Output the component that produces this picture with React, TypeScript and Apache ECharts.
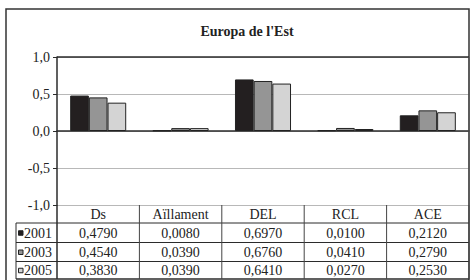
import React, { useEffect, useRef } from "react";
import * as echarts from "echarts";

const chartTitle = "Europa de l'Est";
const categories = ["Ds", "Aïllament", "DEL", "RCL", "ACE"];
const seriesNames = ["2001", "2003", "2005"];
const values2001 = [0.479, 0.008, 0.697, 0.01, 0.212];
const values2003 = [0.454, 0.039, 0.676, 0.041, 0.279];
const values2005 = [0.383, 0.039, 0.641, 0.027, 0.253];
const seriesValues = [values2001, values2003, values2005];
const seriesColors = ["#231f20", "#959595", "#d4d4d4"];
const yMin = -1;
const yMax = 1;
const yStep = 0.5;

const FONT = "serif";
const W = 470;
const H = 280;
const GL = 57;
const GT = 57;
const GW = 412;
const GH = 148;
const ROWS = [205, 223, 242.5, 261.5, 279];
const LEG_X = 16;
const DARK = "#2b2b2b";

const fmt = (v: number, d: number) => v.toFixed(d).replace(".", ",");

export default function App() {
  const ref = useRef<HTMLDivElement>(null);
  useEffect(() => {
    if (!ref.current) return;
    const chart = echarts.init(ref.current, null, { renderer: "svg" });
    const option: any = {
      animation: false,
      backgroundColor: "#ffffff",
      textStyle: { fontFamily: FONT },
      grid: { left: GL, top: GT, width: GW, height: GH, containLabel: false },
      xAxis: {
        type: "category",
        data: categories,
        axisLine: { show: true, lineStyle: { color: DARK, width: 1.5 } },
        axisTick: { show: false },
        axisLabel: { show: false },
        splitLine: { show: false },
      },
      yAxis: {
        type: "value",
        min: yMin,
        max: yMax,
        interval: yStep,
        axisLine: { show: true, lineStyle: { color: DARK, width: 1.5 } },
        axisTick: { show: true, length: 4, lineStyle: { color: DARK, width: 1 } },
        axisLabel: {
          formatter: (v: number) => fmt(v, 1),
          fontFamily: FONT,
          fontSize: 14,
          color: "#222",
          margin: 7,
        },
        splitLine: { show: true, lineStyle: { color: "#b8b8b8", width: 1 } },
      },
      series: seriesNames.map((name, i) => ({
        name,
        type: "bar",
        data: seriesValues[i],
        barGap: "0%",
        barCategoryGap: "32%",
        itemStyle: { color: seriesColors[i], borderColor: "#222", borderWidth: 1 },
      })),
    };
    chart.setOption(option);

    const n = categories.length;
    const catW = GW / n;
    const centers = categories.map((_, i) => chart.convertToPixel({ xAxisIndex: 0 }, i) as number);
    const right = GL + GW;
    const elements: any[] = [];
    elements.push({
      type: "rect",
      shape: { x: 6, y: 9, width: right - 6, height: H },
      style: { fill: "none", stroke: "#333", lineWidth: 1.5 },
      z: 10,
    });
    elements.push({
      type: "line",
      shape: { x1: GL, y1: GT, x2: right, y2: GT },
      style: { stroke: DARK, lineWidth: 1.5 },
      z: 10,
    });
    elements.push({
      type: "line",
      shape: { x1: right, y1: GT, x2: right, y2: GT + GH },
      style: { stroke: "#555", lineWidth: 1 },
      z: 10,
    });
    elements.push({
      type: "text",
      x: 247,
      y: 31,
      style: {
        text: chartTitle,
        fontFamily: FONT,
        fontSize: 14,
        fontWeight: "bold",
        fill: "#222",
        align: "center",
        verticalAlign: "middle",
      },
      z: 10,
    });
    ROWS.forEach((y, r) => {
      if (r === 0) return;
      elements.push({
        type: "line",
        shape: { x1: LEG_X, y1: y, x2: right, y2: y },
        style: { stroke: DARK, lineWidth: r === ROWS.length - 1 ? 1.5 : 1 },
        z: 10,
      });
    });
    for (let i = 0; i <= n; i++) {
      const x = GL + i * catW;
      elements.push({
        type: "line",
        shape: { x1: x, y1: ROWS[0], x2: x, y2: ROWS[ROWS.length - 1] },
        style: { stroke: i === 0 ? DARK : "#444", lineWidth: i === 0 ? 1.5 : 1 },
        z: 10,
      });
    }
    elements.push({
      type: "line",
      shape: { x1: LEG_X, y1: ROWS[1], x2: LEG_X, y2: ROWS[ROWS.length - 1] },
      style: { stroke: DARK, lineWidth: 1 },
      z: 10,
    });
    categories.forEach((c, i) => {
      elements.push({
        type: "text",
        x: centers[i],
        y: (ROWS[0] + ROWS[1]) / 2 + 0.5,
        style: {
          text: c,
          fontFamily: FONT,
          fontSize: 14,
          fill: "#222",
          align: "center",
          verticalAlign: "middle",
        },
        z: 11,
      });
    });
    seriesNames.forEach((name, s) => {
      const yc = (ROWS[s + 1] + ROWS[s + 2]) / 2 + 0.5;
      elements.push({
        type: "rect",
        shape: { x: 18.5, y: yc - 2.5, width: 4.5, height: 4.5 },
        style: { fill: seriesColors[s], stroke: "#222", lineWidth: 1 },
        z: 11,
      });
      elements.push({
        type: "text",
        x: 24,
        y: yc,
        style: {
          text: name,
          fontFamily: FONT,
          fontSize: 14,
          fill: "#222",
          align: "left",
          verticalAlign: "middle",
        },
        z: 11,
      });
      seriesValues[s].forEach((v, i) => {
        elements.push({
          type: "text",
          x: centers[i],
          y: yc,
          style: {
            text: fmt(v, 4),
            fontFamily: FONT,
            fontSize: 14,
            fill: "#222",
            align: "center",
            verticalAlign: "middle",
          },
          z: 11,
        });
      });
    });
    chart.setOption({ graphic: { elements } });
    return () => chart.dispose();
  }, []);
  return (
    <div
      ref={ref}
      style={{ position: "fixed", left: 0, top: 0, width: W, height: H }}
    />
  );
}
